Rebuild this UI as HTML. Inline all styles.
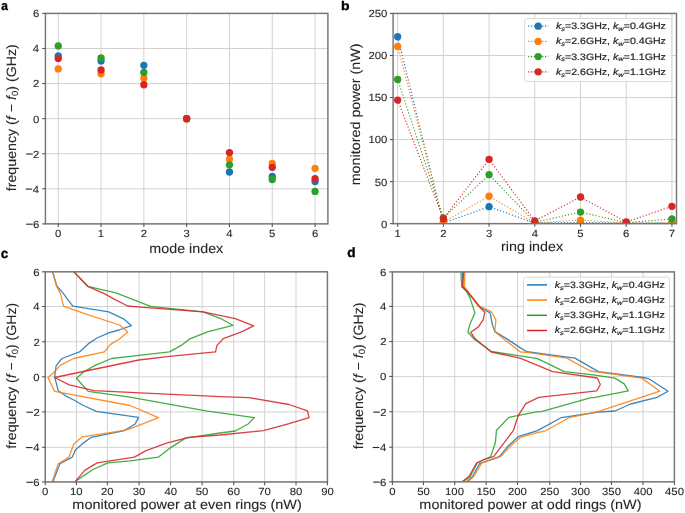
<!DOCTYPE html>
<html><head><meta charset="utf-8"><style>html,body{margin:0;padding:0;background:#fff;}svg{display:block;}text{font-family:"Liberation Sans",sans-serif;text-rendering:geometricPrecision;stroke:#262626;stroke-width:0.1px;}</style></head><body>
<svg width="685" height="513" viewBox="0 0 685 513" font-family="Liberation Sans, sans-serif">
<defs><filter id="soft" x="0" y="0" width="685" height="513" filterUnits="userSpaceOnUse"><feGaussianBlur stdDeviation="0.5"/></filter></defs>
<rect width="685" height="513" fill="#fff"/>
<g filter="url(#soft)">
<line x1="58.26" y1="13.42" x2="58.26" y2="223.85" stroke="#d0d0d0" stroke-width="0.95"/>
<line x1="101.06" y1="13.42" x2="101.06" y2="223.85" stroke="#d0d0d0" stroke-width="0.95"/>
<line x1="143.86" y1="13.42" x2="143.86" y2="223.85" stroke="#d0d0d0" stroke-width="0.95"/>
<line x1="186.66" y1="13.42" x2="186.66" y2="223.85" stroke="#d0d0d0" stroke-width="0.95"/>
<line x1="229.46" y1="13.42" x2="229.46" y2="223.85" stroke="#d0d0d0" stroke-width="0.95"/>
<line x1="272.26" y1="13.42" x2="272.26" y2="223.85" stroke="#d0d0d0" stroke-width="0.95"/>
<line x1="315.06" y1="13.42" x2="315.06" y2="223.85" stroke="#d0d0d0" stroke-width="0.95"/>
<line x1="45.42" y1="223.89" x2="327.9" y2="223.89" stroke="#d0d0d0" stroke-width="0.95"/>
<line x1="45.42" y1="188.81" x2="327.9" y2="188.81" stroke="#d0d0d0" stroke-width="0.95"/>
<line x1="45.42" y1="153.73" x2="327.9" y2="153.73" stroke="#d0d0d0" stroke-width="0.95"/>
<line x1="45.42" y1="118.65" x2="327.9" y2="118.65" stroke="#d0d0d0" stroke-width="0.95"/>
<line x1="45.42" y1="83.57" x2="327.9" y2="83.57" stroke="#d0d0d0" stroke-width="0.95"/>
<line x1="45.42" y1="48.49" x2="327.9" y2="48.49" stroke="#d0d0d0" stroke-width="0.95"/>
<line x1="45.42" y1="13.41" x2="327.9" y2="13.41" stroke="#d0d0d0" stroke-width="0.95"/>
<clipPath id="clipa"><rect x="45.42" y="13.42" width="282.48" height="210.43"/></clipPath>
<g clip-path="url(#clipa)">
<circle cx="58.26" cy="55.80" r="3.65" fill="#1f77b4"/>
<circle cx="101.06" cy="60.95" r="3.65" fill="#1f77b4"/>
<circle cx="143.86" cy="65.30" r="3.65" fill="#1f77b4"/>
<circle cx="186.66" cy="118.65" r="3.65" fill="#1f77b4"/>
<circle cx="229.46" cy="172.00" r="3.65" fill="#1f77b4"/>
<circle cx="272.26" cy="176.35" r="3.65" fill="#1f77b4"/>
<circle cx="315.06" cy="181.50" r="3.65" fill="#1f77b4"/>
<circle cx="58.26" cy="68.95" r="3.65" fill="#ff7f0e"/>
<circle cx="101.06" cy="73.80" r="3.65" fill="#ff7f0e"/>
<circle cx="143.86" cy="78.20" r="3.65" fill="#ff7f0e"/>
<circle cx="186.66" cy="118.65" r="3.65" fill="#ff7f0e"/>
<circle cx="229.46" cy="159.10" r="3.65" fill="#ff7f0e"/>
<circle cx="272.26" cy="163.50" r="3.65" fill="#ff7f0e"/>
<circle cx="315.06" cy="168.35" r="3.65" fill="#ff7f0e"/>
<circle cx="58.26" cy="45.90" r="3.65" fill="#2ca02c"/>
<circle cx="101.06" cy="57.80" r="3.65" fill="#2ca02c"/>
<circle cx="143.86" cy="72.50" r="3.65" fill="#2ca02c"/>
<circle cx="186.66" cy="118.65" r="3.65" fill="#2ca02c"/>
<circle cx="229.46" cy="164.80" r="3.65" fill="#2ca02c"/>
<circle cx="272.26" cy="179.50" r="3.65" fill="#2ca02c"/>
<circle cx="315.06" cy="191.40" r="3.65" fill="#2ca02c"/>
<circle cx="58.26" cy="58.55" r="3.65" fill="#d62728"/>
<circle cx="101.06" cy="69.95" r="3.65" fill="#d62728"/>
<circle cx="143.86" cy="84.75" r="3.65" fill="#d62728"/>
<circle cx="186.66" cy="118.65" r="3.65" fill="#d62728"/>
<circle cx="229.46" cy="152.55" r="3.65" fill="#d62728"/>
<circle cx="272.26" cy="167.35" r="3.65" fill="#d62728"/>
<circle cx="315.06" cy="178.75" r="3.65" fill="#d62728"/>
</g>
<rect x="45.42" y="13.42" width="282.48" height="210.43" fill="none" stroke="#767676" stroke-width="1.45"/>
<line x1="58.26" y1="223.85" x2="58.26" y2="227.05" stroke="#555" stroke-width="1.1"/>
<line x1="101.06" y1="223.85" x2="101.06" y2="227.05" stroke="#555" stroke-width="1.1"/>
<line x1="143.86" y1="223.85" x2="143.86" y2="227.05" stroke="#555" stroke-width="1.1"/>
<line x1="186.66" y1="223.85" x2="186.66" y2="227.05" stroke="#555" stroke-width="1.1"/>
<line x1="229.46" y1="223.85" x2="229.46" y2="227.05" stroke="#555" stroke-width="1.1"/>
<line x1="272.26" y1="223.85" x2="272.26" y2="227.05" stroke="#555" stroke-width="1.1"/>
<line x1="315.06" y1="223.85" x2="315.06" y2="227.05" stroke="#555" stroke-width="1.1"/>
<line x1="42.22" y1="223.89" x2="45.42" y2="223.89" stroke="#555" stroke-width="1.1"/>
<line x1="42.22" y1="188.81" x2="45.42" y2="188.81" stroke="#555" stroke-width="1.1"/>
<line x1="42.22" y1="153.73" x2="45.42" y2="153.73" stroke="#555" stroke-width="1.1"/>
<line x1="42.22" y1="118.65" x2="45.42" y2="118.65" stroke="#555" stroke-width="1.1"/>
<line x1="42.22" y1="83.57" x2="45.42" y2="83.57" stroke="#555" stroke-width="1.1"/>
<line x1="42.22" y1="48.49" x2="45.42" y2="48.49" stroke="#555" stroke-width="1.1"/>
<line x1="42.22" y1="13.41" x2="45.42" y2="13.41" stroke="#555" stroke-width="1.1"/>
<text transform="translate(33.02,227.79) scale(1.1,1)" font-size="10.3" fill="#262626">6</text>
<rect x="26.09" y="223.64" width="6.6" height="1.1" fill="#262626"/>
<text transform="translate(32.85,192.72) scale(1.1,1)" font-size="10.3" fill="#262626">4</text>
<rect x="25.63" y="188.56" width="6.6" height="1.1" fill="#262626"/>
<text transform="translate(33.08,157.64) scale(1.1,1)" font-size="10.3" fill="#262626">2</text>
<rect x="26.14" y="153.48" width="6.6" height="1.1" fill="#262626"/>
<text transform="translate(32.97,122.56) scale(1.1,1)" font-size="10.3" fill="#262626">0</text>
<text transform="translate(33.08,87.48) scale(1.1,1)" font-size="10.3" fill="#262626">2</text>
<text transform="translate(32.85,52.40) scale(1.1,1)" font-size="10.3" fill="#262626">4</text>
<text transform="translate(33.02,17.32) scale(1.1,1)" font-size="10.3" fill="#262626">6</text>
<text transform="translate(55.12,237.41) scale(1.1,1)" font-size="10.3" fill="#262626">0</text>
<text transform="translate(97.77,237.41) scale(1.1,1)" font-size="10.3" fill="#262626">1</text>
<text transform="translate(140.72,237.41) scale(1.1,1)" font-size="10.3" fill="#262626">2</text>
<text transform="translate(183.54,237.41) scale(1.1,1)" font-size="10.3" fill="#262626">3</text>
<text transform="translate(226.34,237.41) scale(1.1,1)" font-size="10.3" fill="#262626">4</text>
<text transform="translate(269.12,237.41) scale(1.1,1)" font-size="10.3" fill="#262626">5</text>
<text transform="translate(311.89,237.41) scale(1.1,1)" font-size="10.3" fill="#262626">6</text>
<line x1="397.67" y1="13.45" x2="397.67" y2="223.65" stroke="#d0d0d0" stroke-width="0.95"/>
<line x1="443.38" y1="13.45" x2="443.38" y2="223.65" stroke="#d0d0d0" stroke-width="0.95"/>
<line x1="489.09" y1="13.45" x2="489.09" y2="223.65" stroke="#d0d0d0" stroke-width="0.95"/>
<line x1="534.80" y1="13.45" x2="534.80" y2="223.65" stroke="#d0d0d0" stroke-width="0.95"/>
<line x1="580.51" y1="13.45" x2="580.51" y2="223.65" stroke="#d0d0d0" stroke-width="0.95"/>
<line x1="626.22" y1="13.45" x2="626.22" y2="223.65" stroke="#d0d0d0" stroke-width="0.95"/>
<line x1="671.93" y1="13.45" x2="671.93" y2="223.65" stroke="#d0d0d0" stroke-width="0.95"/>
<line x1="393.1" y1="223.65" x2="676.5" y2="223.65" stroke="#d0d0d0" stroke-width="0.95"/>
<line x1="393.1" y1="181.61" x2="676.5" y2="181.61" stroke="#d0d0d0" stroke-width="0.95"/>
<line x1="393.1" y1="139.57" x2="676.5" y2="139.57" stroke="#d0d0d0" stroke-width="0.95"/>
<line x1="393.1" y1="97.53" x2="676.5" y2="97.53" stroke="#d0d0d0" stroke-width="0.95"/>
<line x1="393.1" y1="55.49" x2="676.5" y2="55.49" stroke="#d0d0d0" stroke-width="0.95"/>
<line x1="393.1" y1="13.45" x2="676.5" y2="13.45" stroke="#d0d0d0" stroke-width="0.95"/>
<clipPath id="clipb"><rect x="393.1" y="13.45" width="283.40" height="210.20"/></clipPath>
<g clip-path="url(#clipb)">
<polyline points="397.67,36.66 443.38,222.98 489.09,206.67 534.80,223.15 580.51,222.39 626.22,223.23 671.93,222.98" fill="none" stroke="#1f77b4" stroke-width="1.15" stroke-dasharray="1.15 2.0"/>
<circle cx="397.67" cy="36.66" r="3.65" fill="#1f77b4"/>
<circle cx="443.38" cy="222.98" r="3.65" fill="#1f77b4"/>
<circle cx="489.09" cy="206.67" r="3.65" fill="#1f77b4"/>
<circle cx="534.80" cy="223.15" r="3.65" fill="#1f77b4"/>
<circle cx="580.51" cy="222.39" r="3.65" fill="#1f77b4"/>
<circle cx="626.22" cy="223.23" r="3.65" fill="#1f77b4"/>
<circle cx="671.93" cy="222.98" r="3.65" fill="#1f77b4"/>
<polyline points="397.67,46.41 443.38,222.22 489.09,196.24 534.80,222.89 580.51,220.03 626.22,223.06 671.93,222.89" fill="none" stroke="#ff7f0e" stroke-width="1.15" stroke-dasharray="1.15 2.0"/>
<circle cx="397.67" cy="46.41" r="3.65" fill="#ff7f0e"/>
<circle cx="443.38" cy="222.22" r="3.65" fill="#ff7f0e"/>
<circle cx="489.09" cy="196.24" r="3.65" fill="#ff7f0e"/>
<circle cx="534.80" cy="222.89" r="3.65" fill="#ff7f0e"/>
<circle cx="580.51" cy="220.03" r="3.65" fill="#ff7f0e"/>
<circle cx="626.22" cy="223.06" r="3.65" fill="#ff7f0e"/>
<circle cx="671.93" cy="222.89" r="3.65" fill="#ff7f0e"/>
<polyline points="397.67,79.45 443.38,217.93 489.09,174.72 534.80,222.39 580.51,212.05 626.22,222.64 671.93,218.94" fill="none" stroke="#2ca02c" stroke-width="1.15" stroke-dasharray="1.15 2.0"/>
<circle cx="397.67" cy="79.45" r="3.65" fill="#2ca02c"/>
<circle cx="443.38" cy="217.93" r="3.65" fill="#2ca02c"/>
<circle cx="489.09" cy="174.72" r="3.65" fill="#2ca02c"/>
<circle cx="534.80" cy="222.39" r="3.65" fill="#2ca02c"/>
<circle cx="580.51" cy="212.05" r="3.65" fill="#2ca02c"/>
<circle cx="626.22" cy="222.64" r="3.65" fill="#2ca02c"/>
<circle cx="671.93" cy="218.94" r="3.65" fill="#2ca02c"/>
<polyline points="397.67,100.05 443.38,218.77 489.09,159.33 534.80,220.96 580.51,197.00 626.22,221.97 671.93,206.33" fill="none" stroke="#d62728" stroke-width="1.15" stroke-dasharray="1.15 2.0"/>
<circle cx="397.67" cy="100.05" r="3.65" fill="#d62728"/>
<circle cx="443.38" cy="218.77" r="3.65" fill="#d62728"/>
<circle cx="489.09" cy="159.33" r="3.65" fill="#d62728"/>
<circle cx="534.80" cy="220.96" r="3.65" fill="#d62728"/>
<circle cx="580.51" cy="197.00" r="3.65" fill="#d62728"/>
<circle cx="626.22" cy="221.97" r="3.65" fill="#d62728"/>
<circle cx="671.93" cy="206.33" r="3.65" fill="#d62728"/>
</g>
<rect x="393.1" y="13.45" width="283.40" height="210.20" fill="none" stroke="#767676" stroke-width="1.45"/>
<line x1="397.67" y1="223.65" x2="397.67" y2="226.85" stroke="#555" stroke-width="1.1"/>
<line x1="443.38" y1="223.65" x2="443.38" y2="226.85" stroke="#555" stroke-width="1.1"/>
<line x1="489.09" y1="223.65" x2="489.09" y2="226.85" stroke="#555" stroke-width="1.1"/>
<line x1="534.80" y1="223.65" x2="534.80" y2="226.85" stroke="#555" stroke-width="1.1"/>
<line x1="580.51" y1="223.65" x2="580.51" y2="226.85" stroke="#555" stroke-width="1.1"/>
<line x1="626.22" y1="223.65" x2="626.22" y2="226.85" stroke="#555" stroke-width="1.1"/>
<line x1="671.93" y1="223.65" x2="671.93" y2="226.85" stroke="#555" stroke-width="1.1"/>
<line x1="389.90" y1="223.65" x2="393.1" y2="223.65" stroke="#555" stroke-width="1.1"/>
<line x1="389.90" y1="181.61" x2="393.1" y2="181.61" stroke="#555" stroke-width="1.1"/>
<line x1="389.90" y1="139.57" x2="393.1" y2="139.57" stroke="#555" stroke-width="1.1"/>
<line x1="389.90" y1="97.53" x2="393.1" y2="97.53" stroke="#555" stroke-width="1.1"/>
<line x1="389.90" y1="55.49" x2="393.1" y2="55.49" stroke="#555" stroke-width="1.1"/>
<line x1="389.90" y1="13.45" x2="393.1" y2="13.45" stroke="#555" stroke-width="1.1"/>
<text transform="translate(380.97,227.56) scale(1.1,1)" font-size="10.3" fill="#262626">0</text>
<text transform="translate(374.68,185.52) scale(1.1,1)" font-size="10.3" fill="#262626">50</text>
<text transform="translate(368.39,143.47) scale(1.1,1)" font-size="10.3" fill="#262626">100</text>
<text transform="translate(368.39,101.44) scale(1.1,1)" font-size="10.3" fill="#262626">150</text>
<text transform="translate(368.39,59.40) scale(1.1,1)" font-size="10.3" fill="#262626">200</text>
<text transform="translate(368.39,17.36) scale(1.1,1)" font-size="10.3" fill="#262626">250</text>
<text transform="translate(394.39,237.41) scale(1.1,1)" font-size="10.3" fill="#262626">1</text>
<text transform="translate(440.24,237.41) scale(1.1,1)" font-size="10.3" fill="#262626">2</text>
<text transform="translate(485.97,237.41) scale(1.1,1)" font-size="10.3" fill="#262626">3</text>
<text transform="translate(531.68,237.41) scale(1.1,1)" font-size="10.3" fill="#262626">4</text>
<text transform="translate(577.37,237.41) scale(1.1,1)" font-size="10.3" fill="#262626">5</text>
<text transform="translate(623.05,237.41) scale(1.1,1)" font-size="10.3" fill="#262626">6</text>
<text transform="translate(668.78,237.41) scale(1.1,1)" font-size="10.3" fill="#262626">7</text>
<line x1="45.26" y1="271.8" x2="45.26" y2="481.95" stroke="#d0d0d0" stroke-width="0.95"/>
<line x1="76.45" y1="271.8" x2="76.45" y2="481.95" stroke="#d0d0d0" stroke-width="0.95"/>
<line x1="107.40" y1="271.8" x2="107.40" y2="481.95" stroke="#d0d0d0" stroke-width="0.95"/>
<line x1="139.10" y1="271.8" x2="139.10" y2="481.95" stroke="#d0d0d0" stroke-width="0.95"/>
<line x1="170.60" y1="271.8" x2="170.60" y2="481.95" stroke="#d0d0d0" stroke-width="0.95"/>
<line x1="202.10" y1="271.8" x2="202.10" y2="481.95" stroke="#d0d0d0" stroke-width="0.95"/>
<line x1="233.70" y1="271.8" x2="233.70" y2="481.95" stroke="#d0d0d0" stroke-width="0.95"/>
<line x1="264.65" y1="271.8" x2="264.65" y2="481.95" stroke="#d0d0d0" stroke-width="0.95"/>
<line x1="296.00" y1="271.8" x2="296.00" y2="481.95" stroke="#d0d0d0" stroke-width="0.95"/>
<line x1="327.45" y1="271.8" x2="327.45" y2="481.95" stroke="#d0d0d0" stroke-width="0.95"/>
<line x1="45.26" y1="481.95" x2="327.45" y2="481.95" stroke="#d0d0d0" stroke-width="0.95"/>
<line x1="45.26" y1="447.30" x2="327.45" y2="447.30" stroke="#d0d0d0" stroke-width="0.95"/>
<line x1="45.26" y1="411.90" x2="327.45" y2="411.90" stroke="#d0d0d0" stroke-width="0.95"/>
<line x1="45.26" y1="376.80" x2="327.45" y2="376.80" stroke="#d0d0d0" stroke-width="0.95"/>
<line x1="45.26" y1="341.80" x2="327.45" y2="341.80" stroke="#d0d0d0" stroke-width="0.95"/>
<line x1="45.26" y1="306.50" x2="327.45" y2="306.50" stroke="#d0d0d0" stroke-width="0.95"/>
<line x1="45.26" y1="271.80" x2="327.45" y2="271.80" stroke="#d0d0d0" stroke-width="0.95"/>
<clipPath id="clipc"><rect x="45.26" y="271.8" width="282.19" height="210.15"/></clipPath>
<g clip-path="url(#clipc)" fill="none" stroke-width="1.3" stroke-linejoin="round" stroke-opacity="0.88">
<polyline points="52.2,266.0 52.6,271.9 56.9,286.3 62.7,292.6 67.4,299.2 72.9,306.2 108.7,311.9 124.1,319.2 131.4,325.7 118.9,330.0 108.7,332.9 97.0,338.0 88.2,343.9 79.5,351.9 61.9,358.5 56.1,365.8 54.6,376.8 58.3,390.7 65.6,395.8 73.9,400.0 82.4,405.0 96.3,411.3 138.5,417.4 135.2,424.0 124.4,430.6 91.3,437.3 82.2,443.9 75.6,449.7 72.3,457.1 59.9,463.7 53.2,481.1 52.8,487.0" stroke="#1f77b4"/>
<polyline points="52.2,266.0 52.6,271.9 56.5,285.9 60.4,293.7 63.5,306.2 88.2,314.8 119.7,325.0 127.7,332.1 119.7,338.8 110.2,344.6 104.3,351.9 73.6,358.5 60.5,365.1 53.9,372.4 48.0,377.5 54.6,391.4 130.0,405.5 158.5,417.7 130.0,428.9 122.8,430.6 82.2,436.8 73.9,443.9 69.0,457.1 58.2,463.7 52.4,481.1 52.0,487.0" stroke="#ff7f0e"/>
<polyline points="69.0,266.0 74.0,271.9 87.7,286.3 116.0,292.9 150.5,306.3 203.1,311.9 222.1,319.2 232.8,325.3 207.5,331.8 189.9,338.8 181.2,345.4 169.5,351.9 130.0,356.3 111.6,358.5 95.6,365.1 83.9,371.7 76.5,378.2 88.2,391.4 130.0,397.2 206.0,410.8 254.5,417.6 248.1,424.0 235.3,431.0 220.0,433.0 185.6,438.1 169.5,448.4 158.5,457.1 130.0,460.8 107.9,462.9 93.0,469.5 75.6,481.1 71.0,487.0" stroke="#2ca02c"/>
<polyline points="69.0,266.0 74.0,271.9 87.7,286.3 104.3,293.6 114.6,299.4 127.7,306.0 140.1,307.2 203.1,311.9 235.3,318.6 253.7,325.8 240.9,332.2 223.2,338.7 217.0,345.4 215.5,351.9 169.5,356.3 138.8,360.0 54.6,377.5 69.2,384.8 94.1,390.7 140.0,392.9 220.0,396.7 248.9,397.7 289.1,404.5 307.5,410.9 309.1,417.6 289.1,423.7 263.4,430.6 220.0,435.0 188.5,437.4 166.5,443.2 146.1,450.6 134.4,457.1 97.1,462.9 84.7,470.4 75.6,481.1 71.0,487.0" stroke="#d62728"/>
</g>
<rect x="45.26" y="271.8" width="282.19" height="210.15" fill="none" stroke="#767676" stroke-width="1.45"/>
<line x1="45.26" y1="481.95" x2="45.26" y2="485.15" stroke="#555" stroke-width="1.1"/>
<line x1="76.45" y1="481.95" x2="76.45" y2="485.15" stroke="#555" stroke-width="1.1"/>
<line x1="107.40" y1="481.95" x2="107.40" y2="485.15" stroke="#555" stroke-width="1.1"/>
<line x1="139.10" y1="481.95" x2="139.10" y2="485.15" stroke="#555" stroke-width="1.1"/>
<line x1="170.60" y1="481.95" x2="170.60" y2="485.15" stroke="#555" stroke-width="1.1"/>
<line x1="202.10" y1="481.95" x2="202.10" y2="485.15" stroke="#555" stroke-width="1.1"/>
<line x1="233.70" y1="481.95" x2="233.70" y2="485.15" stroke="#555" stroke-width="1.1"/>
<line x1="264.65" y1="481.95" x2="264.65" y2="485.15" stroke="#555" stroke-width="1.1"/>
<line x1="296.00" y1="481.95" x2="296.00" y2="485.15" stroke="#555" stroke-width="1.1"/>
<line x1="327.45" y1="481.95" x2="327.45" y2="485.15" stroke="#555" stroke-width="1.1"/>
<line x1="42.06" y1="481.95" x2="45.26" y2="481.95" stroke="#555" stroke-width="1.1"/>
<line x1="42.06" y1="447.30" x2="45.26" y2="447.30" stroke="#555" stroke-width="1.1"/>
<line x1="42.06" y1="411.90" x2="45.26" y2="411.90" stroke="#555" stroke-width="1.1"/>
<line x1="42.06" y1="376.80" x2="45.26" y2="376.80" stroke="#555" stroke-width="1.1"/>
<line x1="42.06" y1="341.80" x2="45.26" y2="341.80" stroke="#555" stroke-width="1.1"/>
<line x1="42.06" y1="306.50" x2="45.26" y2="306.50" stroke="#555" stroke-width="1.1"/>
<line x1="42.06" y1="271.80" x2="45.26" y2="271.80" stroke="#555" stroke-width="1.1"/>
<text transform="translate(33.32,485.86) scale(1.1,1)" font-size="10.3" fill="#262626">6</text>
<rect x="26.39" y="481.70" width="6.6" height="1.1" fill="#262626"/>
<text transform="translate(33.15,451.21) scale(1.1,1)" font-size="10.3" fill="#262626">4</text>
<rect x="25.94" y="447.05" width="6.6" height="1.1" fill="#262626"/>
<text transform="translate(33.38,415.81) scale(1.1,1)" font-size="10.3" fill="#262626">2</text>
<rect x="26.44" y="411.65" width="6.6" height="1.1" fill="#262626"/>
<text transform="translate(33.27,380.71) scale(1.1,1)" font-size="10.3" fill="#262626">0</text>
<text transform="translate(33.38,345.71) scale(1.1,1)" font-size="10.3" fill="#262626">2</text>
<text transform="translate(33.15,310.41) scale(1.1,1)" font-size="10.3" fill="#262626">4</text>
<text transform="translate(33.32,275.71) scale(1.1,1)" font-size="10.3" fill="#262626">6</text>
<text transform="translate(42.12,495.31) scale(1.1,1)" font-size="10.3" fill="#262626">0</text>
<text transform="translate(69.96,495.31) scale(1.1,1)" font-size="10.3" fill="#262626">10</text>
<text transform="translate(101.06,495.31) scale(1.1,1)" font-size="10.3" fill="#262626">20</text>
<text transform="translate(132.81,495.31) scale(1.1,1)" font-size="10.3" fill="#262626">30</text>
<text transform="translate(164.40,495.31) scale(1.1,1)" font-size="10.3" fill="#262626">40</text>
<text transform="translate(195.81,495.31) scale(1.1,1)" font-size="10.3" fill="#262626">50</text>
<text transform="translate(227.36,495.31) scale(1.1,1)" font-size="10.3" fill="#262626">60</text>
<text transform="translate(258.31,495.31) scale(1.1,1)" font-size="10.3" fill="#262626">70</text>
<text transform="translate(289.68,495.31) scale(1.1,1)" font-size="10.3" fill="#262626">80</text>
<text transform="translate(321.13,495.31) scale(1.1,1)" font-size="10.3" fill="#262626">90</text>
<line x1="392.40" y1="271.9" x2="392.40" y2="481.8" stroke="#d0d0d0" stroke-width="0.95"/>
<line x1="423.45" y1="271.9" x2="423.45" y2="481.8" stroke="#d0d0d0" stroke-width="0.95"/>
<line x1="454.70" y1="271.9" x2="454.70" y2="481.8" stroke="#d0d0d0" stroke-width="0.95"/>
<line x1="486.20" y1="271.9" x2="486.20" y2="481.8" stroke="#d0d0d0" stroke-width="0.95"/>
<line x1="517.50" y1="271.9" x2="517.50" y2="481.8" stroke="#d0d0d0" stroke-width="0.95"/>
<line x1="549.80" y1="271.9" x2="549.80" y2="481.8" stroke="#d0d0d0" stroke-width="0.95"/>
<line x1="580.55" y1="271.9" x2="580.55" y2="481.8" stroke="#d0d0d0" stroke-width="0.95"/>
<line x1="611.50" y1="271.9" x2="611.50" y2="481.8" stroke="#d0d0d0" stroke-width="0.95"/>
<line x1="643.00" y1="271.9" x2="643.00" y2="481.8" stroke="#d0d0d0" stroke-width="0.95"/>
<line x1="674.40" y1="271.9" x2="674.40" y2="481.8" stroke="#d0d0d0" stroke-width="0.95"/>
<line x1="392.4" y1="481.80" x2="674.4" y2="481.80" stroke="#d0d0d0" stroke-width="0.95"/>
<line x1="392.4" y1="447.20" x2="674.4" y2="447.20" stroke="#d0d0d0" stroke-width="0.95"/>
<line x1="392.4" y1="411.80" x2="674.4" y2="411.80" stroke="#d0d0d0" stroke-width="0.95"/>
<line x1="392.4" y1="376.45" x2="674.4" y2="376.45" stroke="#d0d0d0" stroke-width="0.95"/>
<line x1="392.4" y1="341.50" x2="674.4" y2="341.50" stroke="#d0d0d0" stroke-width="0.95"/>
<line x1="392.4" y1="306.40" x2="674.4" y2="306.40" stroke="#d0d0d0" stroke-width="0.95"/>
<line x1="392.4" y1="271.90" x2="674.4" y2="271.90" stroke="#d0d0d0" stroke-width="0.95"/>
<clipPath id="clipd"><rect x="392.4" y="271.9" width="282.00" height="209.90"/></clipPath>
<g clip-path="url(#clipd)" fill="none" stroke-width="1.3" stroke-linejoin="round" stroke-opacity="0.88">
<polyline points="462.3,266.0 462.5,272.0 463.0,286.5 467.8,292.0 479.2,306.0 481.9,308.2 490.1,312.9 492.4,324.6 494.8,331.6 506.5,338.6 520.0,347.6 527.0,351.7 575.0,358.1 598.4,371.6 643.0,377.5 648.8,378.7 668.1,391.2 657.0,397.4 630.7,404.0 615.0,411.0 598.0,412.2 568.0,416.6 560.9,417.7 537.5,430.6 535.0,431.4 518.2,436.7 507.6,446.6 499.4,456.6 483.1,462.4 479.6,463.6 472.5,476.5 466.7,481.7 460.0,487.0" stroke="#1f77b4"/>
<polyline points="464.9,266.0 464.8,272.3 464.4,286.7 468.7,292.6 479.2,306.0 491.3,311.7 495.9,319.9 494.8,331.6 501.8,337.4 520.5,352.0 527.0,352.3 566.8,358.1 590.2,371.0 595.0,371.6 641.8,378.1 659.9,391.2 598.0,411.6 569.1,417.7 544.6,431.2 535.0,433.2 520.5,437.3 511.1,445.5 500.6,456.6 481.9,463.0 473.7,476.5 467.9,481.7 461.0,487.0" stroke="#ff7f0e"/>
<polyline points="460.8,266.0 460.9,272.3 461.7,286.7 466.4,291.4 469.9,297.6 474.9,312.9 470.2,323.4 467.9,332.2 474.9,339.8 484.2,346.2 491.3,351.5 520.0,355.8 537.5,358.7 564.4,371.6 595.0,375.1 614.9,378.1 624.2,383.9 628.3,390.9 595.0,397.4 590.2,397.9 542.2,411.3 535.0,412.2 508.8,417.4 496.5,430.3 495.4,442.5 493.0,449.6 490.7,456.6 484.2,459.5 477.2,463.0 470.2,476.5 463.2,481.7 456.0,487.0" stroke="#2ca02c"/>
<polyline points="463.8,266.0 463.7,272.3 462.5,286.7 467.2,291.4 473.4,299.2 478.4,305.8 484.8,312.3 483.1,319.9 478.4,326.9 470.8,332.2 474.9,338.6 484.2,346.2 491.3,352.0 520.0,358.1 552.7,371.6 597.2,378.0 597.9,379.2 600.3,384.5 596.8,390.9 538.7,397.3 525.8,403.7 518.2,415.7 513.5,430.3 493.6,456.6 484.2,459.5 476.6,463.0 469.0,476.5 462.0,481.7 455.0,487.0" stroke="#d62728"/>
</g>
<rect x="392.4" y="271.9" width="282.00" height="209.90" fill="none" stroke="#767676" stroke-width="1.45"/>
<line x1="392.40" y1="481.8" x2="392.40" y2="485.00" stroke="#555" stroke-width="1.1"/>
<line x1="423.45" y1="481.8" x2="423.45" y2="485.00" stroke="#555" stroke-width="1.1"/>
<line x1="454.70" y1="481.8" x2="454.70" y2="485.00" stroke="#555" stroke-width="1.1"/>
<line x1="486.20" y1="481.8" x2="486.20" y2="485.00" stroke="#555" stroke-width="1.1"/>
<line x1="517.50" y1="481.8" x2="517.50" y2="485.00" stroke="#555" stroke-width="1.1"/>
<line x1="549.80" y1="481.8" x2="549.80" y2="485.00" stroke="#555" stroke-width="1.1"/>
<line x1="580.55" y1="481.8" x2="580.55" y2="485.00" stroke="#555" stroke-width="1.1"/>
<line x1="611.50" y1="481.8" x2="611.50" y2="485.00" stroke="#555" stroke-width="1.1"/>
<line x1="643.00" y1="481.8" x2="643.00" y2="485.00" stroke="#555" stroke-width="1.1"/>
<line x1="674.40" y1="481.8" x2="674.40" y2="485.00" stroke="#555" stroke-width="1.1"/>
<line x1="389.20" y1="481.80" x2="392.4" y2="481.80" stroke="#555" stroke-width="1.1"/>
<line x1="389.20" y1="447.20" x2="392.4" y2="447.20" stroke="#555" stroke-width="1.1"/>
<line x1="389.20" y1="411.80" x2="392.4" y2="411.80" stroke="#555" stroke-width="1.1"/>
<line x1="389.20" y1="376.45" x2="392.4" y2="376.45" stroke="#555" stroke-width="1.1"/>
<line x1="389.20" y1="341.50" x2="392.4" y2="341.50" stroke="#555" stroke-width="1.1"/>
<line x1="389.20" y1="306.40" x2="392.4" y2="306.40" stroke="#555" stroke-width="1.1"/>
<line x1="389.20" y1="271.90" x2="392.4" y2="271.90" stroke="#555" stroke-width="1.1"/>
<text transform="translate(380.12,485.71) scale(1.1,1)" font-size="10.3" fill="#262626">6</text>
<rect x="373.19" y="481.55" width="6.6" height="1.1" fill="#262626"/>
<text transform="translate(379.95,451.11) scale(1.1,1)" font-size="10.3" fill="#262626">4</text>
<rect x="372.73" y="446.95" width="6.6" height="1.1" fill="#262626"/>
<text transform="translate(380.18,415.71) scale(1.1,1)" font-size="10.3" fill="#262626">2</text>
<rect x="373.24" y="411.55" width="6.6" height="1.1" fill="#262626"/>
<text transform="translate(380.07,380.36) scale(1.1,1)" font-size="10.3" fill="#262626">0</text>
<text transform="translate(380.18,345.41) scale(1.1,1)" font-size="10.3" fill="#262626">2</text>
<text transform="translate(379.95,310.31) scale(1.1,1)" font-size="10.3" fill="#262626">4</text>
<text transform="translate(380.12,275.81) scale(1.1,1)" font-size="10.3" fill="#262626">6</text>
<text transform="translate(389.26,495.31) scale(1.1,1)" font-size="10.3" fill="#262626">0</text>
<text transform="translate(417.16,495.31) scale(1.1,1)" font-size="10.3" fill="#262626">50</text>
<text transform="translate(445.07,495.31) scale(1.1,1)" font-size="10.3" fill="#262626">100</text>
<text transform="translate(476.57,495.31) scale(1.1,1)" font-size="10.3" fill="#262626">150</text>
<text transform="translate(508.01,495.31) scale(1.1,1)" font-size="10.3" fill="#262626">200</text>
<text transform="translate(540.31,495.31) scale(1.1,1)" font-size="10.3" fill="#262626">250</text>
<text transform="translate(571.12,495.31) scale(1.1,1)" font-size="10.3" fill="#262626">300</text>
<text transform="translate(602.07,495.31) scale(1.1,1)" font-size="10.3" fill="#262626">350</text>
<text transform="translate(633.65,495.31) scale(1.1,1)" font-size="10.3" fill="#262626">400</text>
<text transform="translate(665.05,495.31) scale(1.1,1)" font-size="10.3" fill="#262626">450</text>
<rect x="524.7" y="18.5" width="147.00" height="63.10" rx="2" ry="2" fill="#fff" fill-opacity="0.8" stroke="#d6d6d6" stroke-width="0.9"/>
<line x1="528.20" y1="26.20" x2="548.20" y2="26.20" stroke="#1f77b4" stroke-width="1.2" stroke-dasharray="1.2 1.6"/>
<circle cx="538.20" cy="26.20" r="3.65" fill="#1f77b4"/>
<text x="555.90" y="29.10" font-size="9.3" fill="#262626" style="stroke-width:0.2px" textLength="110" lengthAdjust="spacingAndGlyphs"><tspan font-style="italic">k</tspan><tspan font-style="italic" font-size="6.6" dy="1.8">s</tspan><tspan dy="-1.8">=3.3GHz, </tspan><tspan font-style="italic">k</tspan><tspan font-style="italic" font-size="6.6" dy="1.8">w</tspan><tspan dy="-1.8">=0.4GHz</tspan></text>
<line x1="528.20" y1="41.40" x2="548.20" y2="41.40" stroke="#ff7f0e" stroke-width="1.2" stroke-dasharray="1.2 1.6"/>
<circle cx="538.20" cy="41.40" r="3.65" fill="#ff7f0e"/>
<text x="555.90" y="44.30" font-size="9.3" fill="#262626" style="stroke-width:0.2px" textLength="110" lengthAdjust="spacingAndGlyphs"><tspan font-style="italic">k</tspan><tspan font-style="italic" font-size="6.6" dy="1.8">s</tspan><tspan dy="-1.8">=2.6GHz, </tspan><tspan font-style="italic">k</tspan><tspan font-style="italic" font-size="6.6" dy="1.8">w</tspan><tspan dy="-1.8">=0.4GHz</tspan></text>
<line x1="528.20" y1="56.60" x2="548.20" y2="56.60" stroke="#2ca02c" stroke-width="1.2" stroke-dasharray="1.2 1.6"/>
<circle cx="538.20" cy="56.60" r="3.65" fill="#2ca02c"/>
<text x="555.90" y="59.50" font-size="9.3" fill="#262626" style="stroke-width:0.2px" textLength="110" lengthAdjust="spacingAndGlyphs"><tspan font-style="italic">k</tspan><tspan font-style="italic" font-size="6.6" dy="1.8">s</tspan><tspan dy="-1.8">=3.3GHz, </tspan><tspan font-style="italic">k</tspan><tspan font-style="italic" font-size="6.6" dy="1.8">w</tspan><tspan dy="-1.8">=1.1GHz</tspan></text>
<line x1="528.20" y1="71.80" x2="548.20" y2="71.80" stroke="#d62728" stroke-width="1.2" stroke-dasharray="1.2 1.6"/>
<circle cx="538.20" cy="71.80" r="3.65" fill="#d62728"/>
<text x="555.90" y="74.70" font-size="9.3" fill="#262626" style="stroke-width:0.2px" textLength="110" lengthAdjust="spacingAndGlyphs"><tspan font-style="italic">k</tspan><tspan font-style="italic" font-size="6.6" dy="1.8">s</tspan><tspan dy="-1.8">=2.6GHz, </tspan><tspan font-style="italic">k</tspan><tspan font-style="italic" font-size="6.6" dy="1.8">w</tspan><tspan dy="-1.8">=1.1GHz</tspan></text>
<rect x="523.5" y="277.1" width="146.00" height="63.80" rx="2" ry="2" fill="#fff" fill-opacity="0.8" stroke="#d6d6d6" stroke-width="0.9"/>
<line x1="527.00" y1="284.90" x2="547.00" y2="284.90" stroke="#1f77b4" stroke-width="1.5"/>
<text x="554.70" y="287.80" font-size="9.3" fill="#262626" style="stroke-width:0.2px" textLength="110" lengthAdjust="spacingAndGlyphs"><tspan font-style="italic">k</tspan><tspan font-style="italic" font-size="6.6" dy="1.8">s</tspan><tspan dy="-1.8">=3.3GHz, </tspan><tspan font-style="italic">k</tspan><tspan font-style="italic" font-size="6.6" dy="1.8">w</tspan><tspan dy="-1.8">=0.4GHz</tspan></text>
<line x1="527.00" y1="300.10" x2="547.00" y2="300.10" stroke="#ff7f0e" stroke-width="1.5"/>
<text x="554.70" y="303.00" font-size="9.3" fill="#262626" style="stroke-width:0.2px" textLength="110" lengthAdjust="spacingAndGlyphs"><tspan font-style="italic">k</tspan><tspan font-style="italic" font-size="6.6" dy="1.8">s</tspan><tspan dy="-1.8">=2.6GHz, </tspan><tspan font-style="italic">k</tspan><tspan font-style="italic" font-size="6.6" dy="1.8">w</tspan><tspan dy="-1.8">=0.4GHz</tspan></text>
<line x1="527.00" y1="315.30" x2="547.00" y2="315.30" stroke="#2ca02c" stroke-width="1.5"/>
<text x="554.70" y="318.20" font-size="9.3" fill="#262626" style="stroke-width:0.2px" textLength="110" lengthAdjust="spacingAndGlyphs"><tspan font-style="italic">k</tspan><tspan font-style="italic" font-size="6.6" dy="1.8">s</tspan><tspan dy="-1.8">=3.3GHz, </tspan><tspan font-style="italic">k</tspan><tspan font-style="italic" font-size="6.6" dy="1.8">w</tspan><tspan dy="-1.8">=1.1GHz</tspan></text>
<line x1="527.00" y1="330.50" x2="547.00" y2="330.50" stroke="#d62728" stroke-width="1.5"/>
<text x="554.70" y="333.40" font-size="9.3" fill="#262626" style="stroke-width:0.2px" textLength="110" lengthAdjust="spacingAndGlyphs"><tspan font-style="italic">k</tspan><tspan font-style="italic" font-size="6.6" dy="1.8">s</tspan><tspan dy="-1.8">=2.6GHz, </tspan><tspan font-style="italic">k</tspan><tspan font-style="italic" font-size="6.6" dy="1.8">w</tspan><tspan dy="-1.8">=1.1GHz</tspan></text>
<text transform="translate(1.14,10.27) scale(0.9208,1)" font-size="12.91" font-weight="bold" fill="#000" style="stroke:#000;stroke-width:0.35px">a</text>
<text transform="translate(341.09,10.28) scale(1.1356,1)" font-size="12.38" font-weight="bold" fill="#000" style="stroke:#000;stroke-width:0.35px">b</text>
<text transform="translate(0.86,257.87) scale(0.9961,1)" font-size="13.45" font-weight="bold" fill="#000" style="stroke:#000;stroke-width:0.35px">c</text>
<text transform="translate(347.25,257.26) scale(1.0043,1)" font-size="13.61" font-weight="bold" fill="#000" style="stroke:#000;stroke-width:0.35px">d</text>
<text transform="translate(149.37,252.60) scale(1.0584,1)" font-size="13.5" fill="#262626">mode index</text>
<text transform="translate(501.07,250.70) scale(1.0607,1)" font-size="13.5" fill="#262626">ring index</text>
<text transform="translate(72.36,508.60) scale(1.0691,1)" font-size="13.5" fill="#262626">monitored power at even rings (nW)</text>
<text transform="translate(419.36,508.60) scale(1.0687,1)" font-size="13.5" fill="#262626">monitored power at odd rings (nW)</text>
<text transform="translate(16.20,117.70) rotate(-90)" text-anchor="middle" font-size="13.5" fill="#262626" textLength="147.0" lengthAdjust="spacingAndGlyphs">frequency (<tspan font-style="italic">f</tspan> − <tspan font-style="italic">f</tspan><tspan font-size="9" dy="2.2">0</tspan><tspan dy="-2.2">) (GHz)</tspan></text>
<text transform="translate(16.10,375.80) rotate(-90)" text-anchor="middle" font-size="13.5" fill="#262626" textLength="146.0" lengthAdjust="spacingAndGlyphs">frequency (<tspan font-style="italic">f</tspan> − <tspan font-style="italic">f</tspan><tspan font-size="9" dy="2.2">0</tspan><tspan dy="-2.2">) (GHz)</tspan></text>
<text transform="translate(362.70,375.90) rotate(-90)" text-anchor="middle" font-size="13.5" fill="#262626" textLength="146.8" lengthAdjust="spacingAndGlyphs">frequency (<tspan font-style="italic">f</tspan> − <tspan font-style="italic">f</tspan><tspan font-size="9" dy="2.2">0</tspan><tspan dy="-2.2">) (GHz)</tspan></text>
<text transform="translate(360.1,114.45) rotate(-90)" text-anchor="middle" font-size="13.5" fill="#262626" textLength="141.8" lengthAdjust="spacingAndGlyphs">monitored power (nW)</text>
</g>
</svg>
</body></html>
